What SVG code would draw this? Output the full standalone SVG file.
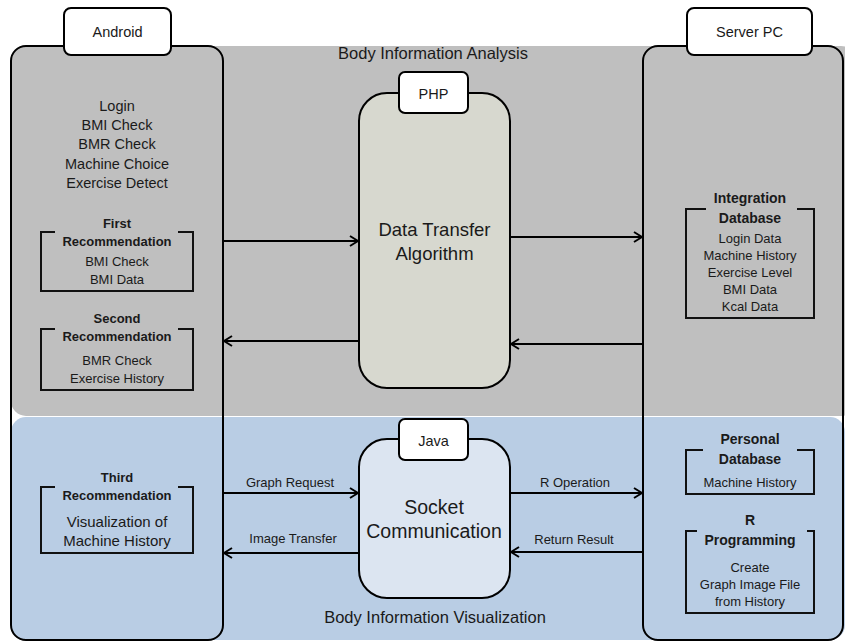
<svg xmlns="http://www.w3.org/2000/svg" width="845" height="643" viewBox="0 0 845 643">
<defs>
<style>
text{font-family:"Liberation Sans",Arial,sans-serif;fill:#1a1a1a;text-anchor:middle}
.t14{font-size:14.5px}
.t13{font-size:13px}
.b13{font-size:13px;font-weight:bold}
.b14{font-size:14px;font-weight:bold}
.big{font-size:18.5px}
.band{font-size:16.5px}
.frame{fill:none;stroke:#000;stroke-width:2}
.tab{fill:#fff;stroke:#000;stroke-width:2}
.br{fill:none;stroke:#111;stroke-width:2}
.con{fill:none;stroke:#000;stroke-width:2;marker-end:url(#arr)}
</style>
<marker id="arr" viewBox="0 0 10 12" refX="9" refY="6" markerWidth="10" markerHeight="12" markerUnits="userSpaceOnUse" orient="auto">
<path d="M1,1 L9,6 L1,11" fill="none" stroke="#000" stroke-width="2"/>
</marker>
</defs>
<rect x="0" y="0" width="845" height="643" fill="#fff"/>
<g id="bands">
<rect x="11" y="46" width="845" height="370" rx="15" fill="#bfbfbf"/>
<rect x="11" y="417" width="834" height="223" rx="15" fill="#b9cde4"/>
<text class="band" x="433" y="59">Body Information Analysis</text>
<text class="band" x="435" y="623">Body Information Visualization</text>
</g>
<g id="android">
<rect class="frame" x="11" y="46" width="212" height="594" rx="15"/>
<rect class="tab" x="64" y="8" width="107" height="47" rx="7"/>
<text class="t14" x="117.5" y="37">Android</text>
<text class="t14" x="117" y="111">Login</text>
<text class="t14" x="117" y="130">BMI Check</text>
<text class="t14" x="117" y="149">BMR Check</text>
<text class="t14" x="117" y="169">Machine Choice</text>
<text class="t14" x="117" y="188">Exercise Detect</text>
</g>
<g id="first-recommendation">
<path class="br" d="M55,232 H41 V291 H193 V232 H178"/>
<text class="b13" x="117" y="228">First</text>
<text class="b13" x="117" y="246">Recommendation</text>
<text class="t13" x="117" y="266">BMI Check</text>
<text class="t13" x="117" y="284">BMI Data</text>
</g>
<g id="second-recommendation">
<path class="br" d="M55,329 H41 V390 H193 V329 H178"/>
<text class="b13" x="117" y="323">Second</text>
<text class="b13" x="117" y="341">Recommendation</text>
<text class="t13" x="117" y="365">BMR Check</text>
<text class="t13" x="117" y="383">Exercise History</text>
</g>
<g id="third-recommendation">
<path class="br" d="M55,487 H41 V553 H193 V487 H178"/>
<text class="b13" x="117" y="482">Third</text>
<text class="b13" x="117" y="500">Recommendation</text>
<text class="t14" x="117" y="527" style="font-size:15px">Visualization of</text>
<text class="t14" x="117" y="546" style="font-size:15px">Machine History</text>
</g>
<g id="server">
<rect class="frame" x="643" y="46" width="200" height="594" rx="15"/>
<rect class="tab" x="687" y="8" width="125" height="47" rx="7"/>
<text class="t14" x="749.5" y="37">Server PC</text>
</g>
<g id="integration-database">
<path class="br" d="M706,209 H686 V318 H814 V209 H797"/>
<text class="b14" x="750" y="203">Integration</text>
<text class="b14" x="750" y="223">Database</text>
<text class="t13" x="750" y="243">Login Data</text>
<text class="t13" x="750" y="260">Machine History</text>
<text class="t13" x="750" y="277">Exercise Level</text>
<text class="t13" x="750" y="294">BMI Data</text>
<text class="t13" x="750" y="311">Kcal Data</text>
</g>
<g id="personal-database">
<path class="br" d="M703,450 H686 V494 H814 V450 H797"/>
<text class="b14" x="750" y="444">Personal</text>
<text class="b14" x="750" y="464">Database</text>
<text class="t13" x="750" y="487">Machine History</text>
</g>
<g id="r-programming">
<path class="br" d="M697,531 H686 V613 H814 V531 H807"/>
<text class="b14" x="750" y="525">R</text>
<text class="b14" x="750" y="545">Programming</text>
<text class="t13" x="750" y="572">Create</text>
<text class="t13" x="750" y="589">Graph Image File</text>
<text class="t13" x="750" y="606">from History</text>
</g>
<g id="php">
<rect x="359" y="93" width="151" height="295" rx="28" fill="#d7d8cf" stroke="#000" stroke-width="2"/>
<rect class="tab" x="399" y="72" width="69" height="41" rx="6"/>
<text class="t14" x="433.5" y="99">PHP</text>
<text class="big" x="434.5" y="236">Data Transfer</text>
<text class="big" x="434.5" y="260">Algorithm</text>
</g>
<g id="java">
<rect x="359" y="439" width="151" height="159" rx="28" fill="#dce5f1" stroke="#000" stroke-width="2"/>
<rect class="tab" x="399" y="419" width="69" height="41" rx="6"/>
<text class="t14" x="433.5" y="446">Java</text>
<text class="big" x="434" y="514" style="font-size:19.5px">Socket</text>
<text class="big" x="434" y="538" style="font-size:19.5px">Communication</text>
</g>
<g id="connectors">
<line class="con" x1="223" y1="241" x2="358" y2="241"/>
<line class="con" x1="510" y1="237" x2="642" y2="237"/>
<line class="con" x1="643" y1="344" x2="511" y2="344"/>
<line class="con" x1="359" y1="341" x2="224" y2="341"/>
<line class="con" x1="223" y1="493" x2="358" y2="493"/>
<line class="con" x1="510" y1="493" x2="642" y2="493"/>
<line class="con" x1="359" y1="553" x2="224" y2="553"/>
<line class="con" x1="643" y1="552" x2="511" y2="552"/>
<text class="t13" x="290" y="487">Graph Request</text>
<text class="t13" x="293" y="543">Image Transfer</text>
<text class="t13" x="575" y="487">R Operation</text>
<text class="t13" x="574" y="544">Return Result</text>
</g>
</svg>
